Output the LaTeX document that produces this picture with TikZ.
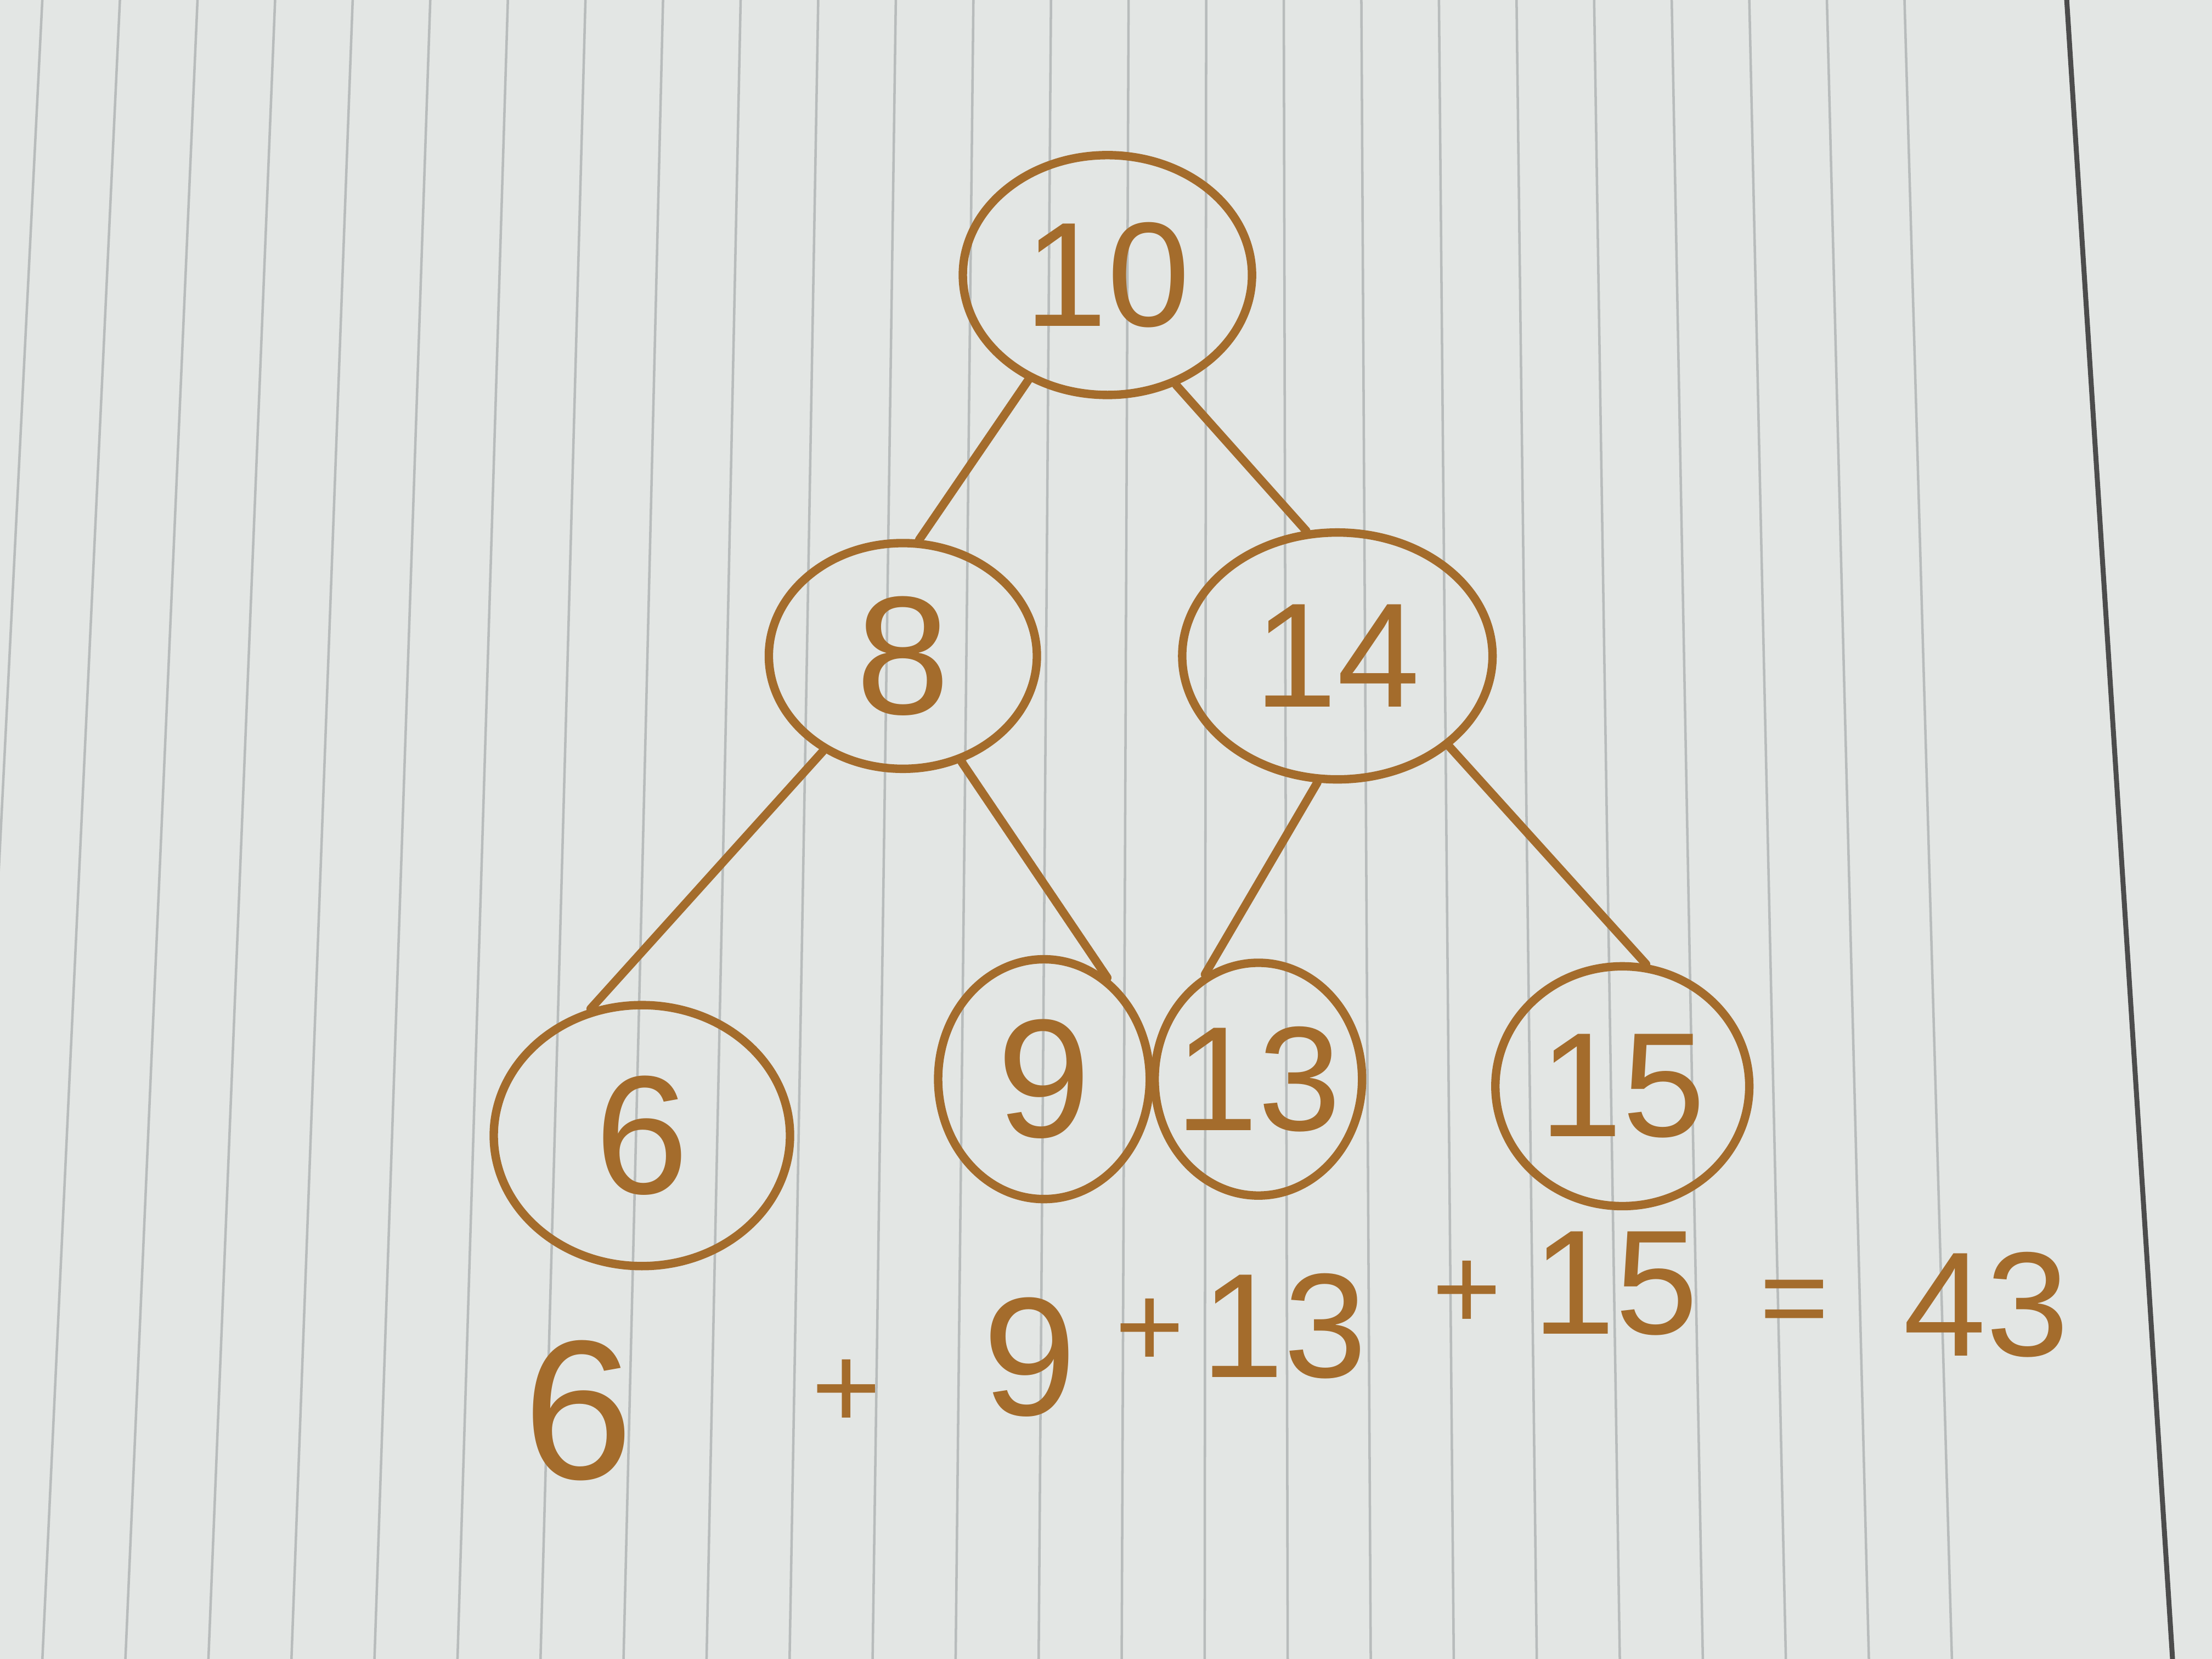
\documentclass[tikz,border=0pt]{standalone}
\usepackage{fontspec}
\setmainfont{Liberation Sans}
\usetikzlibrary{shapes.geometric}
\definecolor{ink}{HTML}{A46C2C}
\definecolor{paper}{HTML}{E3E6E4}
\definecolor{rule}{HTML}{B8BCBC}
\tikzset{
  treenode/.style={ellipse, draw=ink, line width=1.7pt, inner sep=-4pt,
    text=ink, font=\fontsize{30}{34}\selectfont},
  edge/.style={draw=ink, line width=1.7pt, line cap=round},
  eqtext/.style={text=ink, font=\fontsize{30}{34}\selectfont, inner sep=0pt},
  eqplus/.style={eqtext, font=\fontsize{24}{28}\selectfont}
}
\begin{document}
\begin{tikzpicture}
\useasboundingbox (0,0) rectangle (15.68,11.76);
\fill[paper] (0,0) rectangle (15.68,11.76);
\foreach \xt in {0.30,0.85,1.40,1.95,2.50,3.05,3.60,4.15,4.70,5.25,5.80,6.35,6.90,7.45,8.00,8.55,9.10,9.65,10.20,10.75,11.30,11.85,12.40,12.95,13.50}{
  \draw[rule, line width=0.5pt] (\xt,11.76) -- ({8.7+(\xt-8.7)*1.07},0);
}
\draw[black!70, line width=1pt] (14.65,11.76) -- (15.40,0);

\node[treenode, minimum width=2.05cm, minimum height=1.70cm] (n10) at (7.85,9.81) {10};
\node[treenode, minimum width=1.90cm, minimum height=1.60cm, font=\fontsize{34}{40}\selectfont] (n8) at (6.40,7.11) {8};
\node[treenode, minimum width=2.20cm, minimum height=1.75cm] (n14) at (9.48,7.11) {14};
\node[treenode, minimum width=2.10cm, minimum height=1.85cm, font=\fontsize{34}{40}\selectfont] (n6) at (4.55,3.71) {6};
\node[treenode, minimum width=1.50cm, minimum height=1.70cm, font=\fontsize{34}{40}\selectfont] (n9) at (7.40,4.11) {9};
\node[treenode, minimum width=1.47cm, minimum height=1.65cm] (n13) at (8.92,4.11) {13};
\node[treenode, minimum width=1.80cm, minimum height=1.70cm] (n15) at (11.50,4.06) {15};

\draw[edge] (n10.233) -- (n8.82);
\draw[edge] (n10.302) -- (n14.104);
\draw[edge] (n8.230) -- (n6.112);
\draw[edge] (n8.299) -- (n9.58);
\draw[edge] (n14.261) -- (n13.117);
\draw[edge] (n14.321) -- (n15.79);

\node[eqtext, font=\fontsize{40}{46}\selectfont] (e1) at (4.10,1.76) {6};
\node[eqplus] (e2) at (6.00,1.88) {+};
\node[eqtext, font=\fontsize{34}{40}\selectfont] (e3) at (7.30,2.14) {9};
\node[eqplus] (e4) at (8.15,2.31) {+};
\node[eqtext] (e5) at (9.10,2.36) {13};
\node[eqplus] (e6) at (10.40,2.58) {+};
\node[eqtext] (e7) at (11.45,2.66) {15};
\node[eqplus] (e8) at (12.72,2.48) {=};
\node[eqtext] (e9) at (14.08,2.51) {43};
\end{tikzpicture}
\end{document}
